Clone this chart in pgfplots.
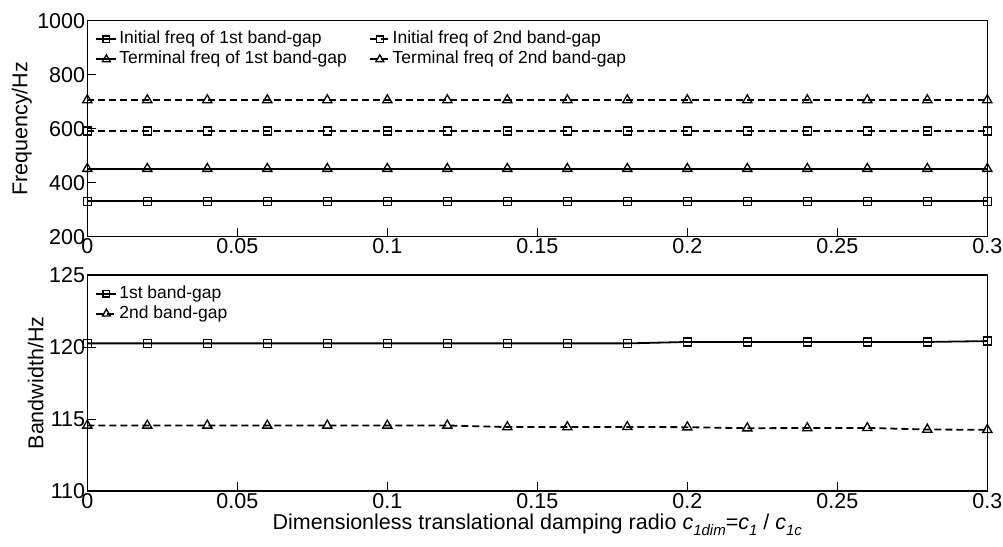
\documentclass[border=0pt]{standalone}
\usepackage{fontspec}
\setmainfont{Liberation Sans}
\usepackage{pgfplots}
\pgfplotsset{compat=1.18}

\newcommand{\sub}[1]{\raisebox{-6pt}{\fontsize{15}{15}\selectfont\textit{#1}}}

\pgfplotstableread{
x init1 init2 term1 term2
0.00 331.5 591.5 451.7 706.0
0.02 331.5 591.5 451.7 706.0
0.04 331.5 591.5 451.7 706.0
0.06 331.5 591.5 451.7 706.0
0.08 331.5 591.5 451.7 706.0
0.10 331.5 591.5 451.7 706.0
0.12 331.5 591.5 451.7 706.0
0.14 331.5 591.5 451.7 706.0
0.16 331.5 591.5 451.7 706.0
0.18 331.5 591.5 451.7 706.0
0.20 331.5 591.5 451.7 706.0
0.22 331.5 591.5 451.7 706.0
0.24 331.5 591.5 451.7 706.0
0.26 331.5 591.5 451.7 706.0
0.28 331.5 591.5 451.7 706.0
0.30 331.5 591.5 451.7 706.0
}\freqtable

\pgfplotstableread{
x bw1 bw2
0.00 120.25 114.55
0.02 120.25 114.55
0.04 120.25 114.55
0.06 120.25 114.55
0.08 120.25 114.55
0.10 120.25 114.55
0.12 120.25 114.55
0.14 120.25 114.44
0.16 120.25 114.44
0.18 120.25 114.45
0.20 120.35 114.43
0.22 120.35 114.36
0.24 120.35 114.37
0.26 120.35 114.38
0.28 120.35 114.27
0.30 120.41 114.25
}\bwtable

\pgfplotsset{
 common/.style={
  scale only axis, width=900pt, height=216pt,
  xmin=0, xmax=0.3,
  axis line style={line width=1.4pt},
  tick style={line width=0.8pt, black},
  major tick length=9pt,
  tick align=inside,
  tick pos=left,
  xtick={0,0.05,0.1,0.15,0.2,0.25,0.3},
  xticklabels={0,0.05,0.1,0.15,0.2,0.25,0.3},
  ticklabel style={font=\fontsize{21.5}{24}\selectfont},
  xticklabel style={inner sep=2pt},
  yticklabel style={inner sep=2pt},
  label style={font=\fontsize{21.5}{24}\selectfont},
  legend cell align=left,
  legend style={draw=none, fill=none, font=\fontsize{17.5}{20}\selectfont,
    at={(0,1)}, anchor=north west, xshift=8pt, yshift=-8.5pt, inner sep=0pt,
    row sep=0pt,
    nodes={inner sep=2pt, text height=12.5pt, text depth=3.5pt},
    /tikz/every even column/.append style={column sep=20pt}},
  legend image code/.code={\draw[mark repeat=2,mark phase=2,##1, every mark/.append style={scale=0.85}] plot coordinates {(0pt,0pt)(10pt,0pt)(20pt,0pt)};},
 },
 sq/.style={black, line width=1.8pt, mark=square, mark size=4pt, mark options={solid, line width=1.3pt}},
 tr/.style={black, line width=1.8pt, mark=triangle, mark size=5.3pt, mark options={solid, line width=1.3pt}},
 dsh/.style={dash pattern=on 7pt off 4pt},
}

\begin{document}
\begin{tikzpicture}
\begin{axis}[common, name=top,
  ymin=200, ymax=1000,
  ytick={200,400,600,800,1000},
  yticklabels={200,400,600,800,1000},
  ylabel={Frequency/Hz},
  legend columns=2,
]
\addplot[sq] table[x=x,y=init1] {\freqtable};
\addlegendentry{Initial freq of 1st band-gap}
\addplot[sq,dsh] table[x=x,y=init2] {\freqtable};
\addlegendentry{Initial freq of 2nd band-gap}
\addplot[tr] table[x=x,y=term1] {\freqtable};
\addlegendentry{Terminal freq of 1st band-gap}
\addplot[tr,dsh] table[x=x,y=term2] {\freqtable};
\addlegendentry{Terminal freq of 2nd band-gap}
\end{axis}
\begin{axis}[common, name=bot, at={(top.south west)}, anchor=north west, yshift=-38.3pt,
  ymin=110, ymax=125,
  ytick={110,115,120,125},
  yticklabels={110,115,120,125},
  ylabel={Bandwidth/Hz},
  xlabel={Dimensionless translational damping radio \textit{c}\sub{1dim}=\textit{c}\sub{1} / \textit{c}\sub{1c}},
]
\addplot[sq] table[x=x,y=bw1] {\bwtable};
\addlegendentry{1st band-gap}
\addplot[tr,dsh] table[x=x,y=bw2] {\bwtable};
\addlegendentry{2nd band-gap}
\end{axis}
\pgfresetboundingbox
\path[use as bounding box] ([shift={(-87.3pt,20.7pt)}]top.north west) rectangle ([shift={(915.7pt,-525.3pt)}]top.north west);
\end{tikzpicture}
\end{document}
